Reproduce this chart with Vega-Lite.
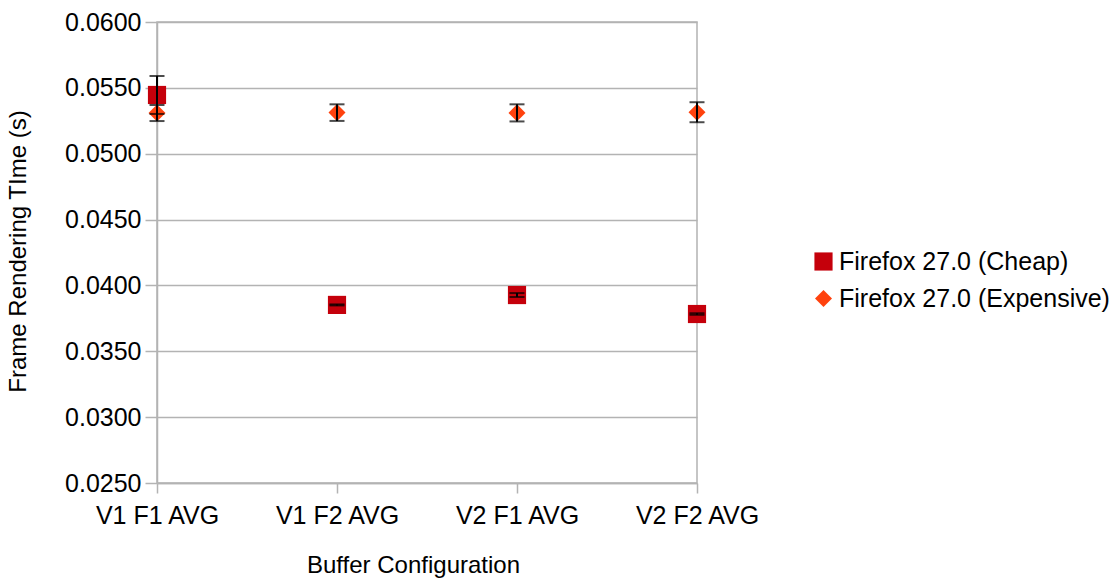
{
  "$schema": "https://vega.github.io/schema/vega-lite/v6.json",
  "width": 540,
  "height": 461,
  "autosize": {"type": "none"},
  "padding": {"left": 157, "top": 22, "right": 423, "bottom": 95},
  "background": "white",
  "config": {
    "font": "Liberation Sans",
    "view": {"stroke": "#b3b3b3", "strokeWidth": 1.5},
    "axis": {
      "labelFont": "Liberation Sans",
      "titleFont": "Liberation Sans",
      "labelColor": "#000000",
      "titleColor": "#000000",
      "titleFontWeight": "normal",
      "domainColor": "#b3b3b3",
      "domainWidth": 1.5,
      "tickColor": "#b3b3b3",
      "tickWidth": 1.5,
      "gridColor": "#b3b3b3",
      "gridWidth": 1.5,
      "gridOpacity": 1
    },
    "legend": {"labelFont": "Liberation Sans", "labelColor": "#000000"}
  },
  "data": {
    "values": [
      {"config": "V1 F1 AVG", "series": "Firefox 27.0 (Cheap)", "mean": 0.05446, "lo": 0.05302, "hi": 0.0559},
      {"config": "V1 F2 AVG", "series": "Firefox 27.0 (Cheap)", "mean": 0.03852, "lo": 0.03848, "hi": 0.03856},
      {"config": "V2 F1 AVG", "series": "Firefox 27.0 (Cheap)", "mean": 0.03927, "lo": 0.03912, "hi": 0.03942},
      {"config": "V2 F2 AVG", "series": "Firefox 27.0 (Cheap)", "mean": 0.03783, "lo": 0.03777, "hi": 0.03789},
      {"config": "V1 F1 AVG", "series": "Firefox 27.0 (Expensive)", "mean": 0.05309, "lo": 0.05248, "hi": 0.0537},
      {"config": "V1 F2 AVG", "series": "Firefox 27.0 (Expensive)", "mean": 0.05312, "lo": 0.05249, "hi": 0.05375},
      {"config": "V2 F1 AVG", "series": "Firefox 27.0 (Expensive)", "mean": 0.0531, "lo": 0.05245, "hi": 0.05375},
      {"config": "V2 F2 AVG", "series": "Firefox 27.0 (Expensive)", "mean": 0.05315, "lo": 0.05239, "hi": 0.05391}
    ]
  },
  "encoding": {
    "x": {
      "field": "config",
      "type": "nominal",
      "sort": null,
      "scale": {"type": "point", "padding": 0},
      "axis": {
        "title": "Buffer Configuration",
        "labelAngle": 0,
        "labelFontSize": 25,
        "labelPadding": 10,
        "tickSize": 10,
        "grid": false,
        "titleFontSize": 24,
        "titleX": 256,
        "titleY": 82,
        "titleBaseline": "middle"
      }
    }
  },
  "layer": [
    {
      "mark": {"type": "point", "filled": true, "opacity": 1},
      "encoding": {
        "y": {
          "field": "mean",
          "type": "quantitative",
          "scale": {"domain": [0.025, 0.06], "nice": false, "zero": false},
          "axis": {
            "title": "Frame Rendering TIme (s)",
            "values": [0.025, 0.03, 0.035, 0.04, 0.045, 0.05, 0.055, 0.06],
            "format": ".4f",
            "labelFontSize": 25,
            "labelPadding": 4,
            "tickSize": 12,
            "titleFontSize": 24,
            "titleX": -139,
            "titleY": 229,
            "titleAngle": -90,
            "titleAlign": "center",
            "titleBaseline": "middle"
          }
        },
        "color": {
          "field": "series",
          "type": "nominal",
          "scale": {"domain": ["Firefox 27.0 (Cheap)", "Firefox 27.0 (Expensive)"], "range": ["#c5000b", "#ff420e"]},
          "legend": {
            "title": null,
            "orient": "none",
            "legendX": 654,
            "legendY": 227,
            "labelFontSize": 25,
            "labelLimit": 400,
            "symbolSize": 220,
            "rowPadding": 11,
            "labelOffset": 3
          }
        },
        "shape": {
          "field": "series",
          "type": "nominal",
          "scale": {"domain": ["Firefox 27.0 (Cheap)", "Firefox 27.0 (Expensive)"], "range": ["square", "diamond"]},
          "legend": null
        },
        "size": {
          "field": "series",
          "type": "nominal",
          "scale": {"domain": ["Firefox 27.0 (Cheap)", "Firefox 27.0 (Expensive)"], "range": [330, 290]},
          "legend": null
        }
      }
    },
    {
      "mark": {"type": "rule", "color": "#000000", "strokeWidth": 2},
      "encoding": {
        "y": {"field": "lo", "type": "quantitative"},
        "y2": {"field": "hi"}
      }
    },
    {
      "mark": {"type": "tick", "color": "#000000", "thickness": 2, "size": 15},
      "encoding": {"y": {"field": "lo", "type": "quantitative"}}
    },
    {
      "mark": {"type": "tick", "color": "#000000", "thickness": 2, "size": 15},
      "encoding": {"y": {"field": "hi", "type": "quantitative"}}
    }
  ]
}
